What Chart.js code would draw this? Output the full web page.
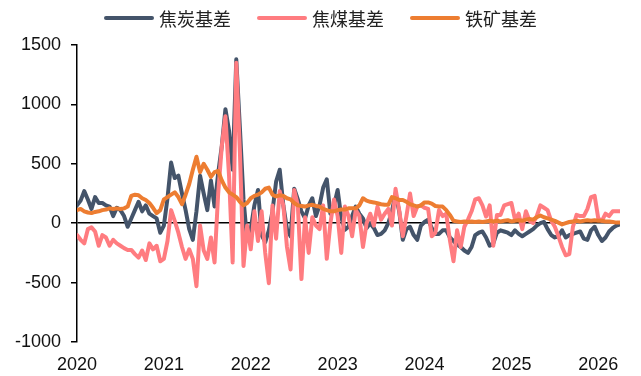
<!DOCTYPE html>
<html>
<head>
<meta charset="utf-8">
<script src="https://cdn.jsdelivr.net/npm/chart.js@4/dist/chart.umd.min.js"></script>
<style>
  body { margin: 0; background: #fff; }
  #wrap { position: relative; width: 641px; height: 376px; }
  #legend {
    position: absolute; left: 0; top: 6px; width: 641px; height: 24px;
    display: flex; justify-content: center; align-items: center;
    font-family: "Noto Sans CJK SC", sans-serif; font-size: 18px; color: #222;
  }
  .item { display: flex; align-items: center; margin: 0 13px; }
  .swatch { width: 50px; height: 4px; margin-right: 5px; border-radius: 2px; }
</style>
</head>
<body>
<div id="wrap">
  <canvas id="chart" width="641" height="376"></canvas>
  <div id="legend"></div>
</div>
<script>
// half-month steps starting Jan 2020
const startYear = 2020;
const stepsPerYear = 24;

const seriesNames = ['焦炭基差', '焦煤基差', '铁矿基差'];
const seriesColors = ['#44546A', '#FF7C80', '#ED7D31'];

const cokeBasis = [150,190,270,200,120,220,170,170,150,140,
  60,130,110,60,-30,40,110,180,100,150,
  80,60,40,-80,-20,210,510,380,400,250,
  110,-50,-140,100,400,250,110,360,140,420,
  650,960,780,450,1380,800,200,-140,-50,150,
  280,-100,-160,-60,100,350,450,150,-50,-110,
  290,200,100,40,150,210,60,150,300,370,
  80,150,280,50,-56,-30,60,140,80,40,
  -40,0,-40,-100,-90,-60,0,100,250,100,
  -140,-50,-30,-100,-140,-20,10,30,-40,-90,
  -90,-60,-60,-120,-150,-180,-200,-230,-250,-200,
  -100,-80,-70,-120,-190,-170,-80,-60,-70,-80,
  -100,-60,-90,-110,-90,-70,-50,-20,0,10,
  -50,-100,-120,-110,-60,-120,-100,-90,-80,-70,
  -130,-140,-60,-30,-100,-150,-120,-70,-40,-20,
  -10];

const coalBasis = [-100,-140,-170,-50,-35,-70,-190,-100,-120,-190,
  -140,-170,-190,-210,-225,-225,-260,-290,-230,-310,
  -170,-220,-190,-320,-300,-150,110,20,-80,-200,
  -300,-220,-300,-530,-20,-230,-300,-120,-330,250,
  650,900,400,-330,1350,600,-360,-20,-220,100,
  -150,100,-250,-505,150,-130,270,150,-200,-390,
  280,150,-470,50,-250,50,-20,-50,150,-300,
  0,200,60,-250,140,60,-110,110,60,-200,
  0,80,-20,140,30,80,120,-20,290,110,
  -110,60,250,60,140,150,130,120,-110,-80,
  110,60,80,-140,-320,-60,-200,-30,30,100,
  200,210,150,56,150,-190,70,70,150,160,
  170,30,80,-50,100,20,0,60,150,130,
  110,20,-30,-110,-200,-270,-260,-30,70,60,
  60,120,220,230,40,20,80,60,100,100,
  100];

const oreBasis = [110,120,100,90,85,95,100,110,115,125,
  120,125,120,125,140,230,240,235,210,195,
  170,130,85,110,200,220,240,260,220,160,
  240,330,450,560,430,500,450,390,430,440,
  360,300,260,240,220,180,150,170,210,230,
  240,260,290,300,240,225,235,230,210,200,
  170,150,145,140,150,155,145,140,120,110,
  100,100,110,115,115,125,125,125,150,210,
  190,180,175,168,160,155,155,220,210,196,
  196,180,160,150,140,150,175,175,165,145,
  140,140,110,70,20,15,10,15,10,15,
  10,15,10,15,20,15,20,15,20,25,
  15,20,25,20,30,35,30,50,65,50,
  40,30,20,5,-10,0,10,15,20,15,
  20,25,20,25,20,20,15,15,10,5,
  5];

const yTicks = [-1000, -500, 0, 500, 1000, 1500];
const xTicks = [2020, 2021, 2022, 2023, 2024, 2025, 2026];

const dates = cokeBasis.map((_, i) => startYear + i / stepsPerYear);
const toPoints = arr => arr.map((v, i) => ({ x: dates[i], y: v }));

// legend as html
const legendEl = document.getElementById('legend');
seriesNames.forEach((name, i) => {
  legendEl.insertAdjacentHTML('beforeend',
    `<div class="item"><span class="swatch" style="background:${seriesColors[i]}"></span><span>${name}</span></div>`);
});

const tickFont = { family: '"Liberation Sans", Arial, sans-serif', size: 18 };

const lineStyle = (i, order) => ({
  label: seriesNames[i],
  borderColor: seriesColors[i],
  backgroundColor: seriesColors[i],
  borderWidth: 4,
  pointRadius: 0,
  tension: 0,
  borderJoinStyle: 'round',
  borderCapStyle: 'round',
  order: order
});

new Chart(document.getElementById('chart'), {
  type: 'line',
  data: {
    datasets: [
      { ...lineStyle(0, 3), data: toPoints(cokeBasis) },
      { ...lineStyle(1, 2), data: toPoints(coalBasis) },
      { ...lineStyle(2, 1), data: toPoints(oreBasis) }
    ]
  },
  options: {
    responsive: false,
    animation: false,
    layout: { padding: { top: 45, right: 21, bottom: 0, left: 0 } },
    plugins: { legend: { display: false }, tooltip: { enabled: false } },
    scales: {
      x: {
        type: 'linear',
        min: startYear,
        max: dates[dates.length - 1],
        afterBuildTicks: scale => { scale.ticks = xTicks.map(v => ({ value: v })); },
        afterFit: scale => { scale.height = 34; },
        grid: { display: false, drawTicks: false },
        border: { display: false },
        ticks: {
          font: tickFont, color: '#111', padding: 12, maxRotation: 0, autoSkip: false,
          callback: v => String(v)
        }
      },
      y: {
        min: yTicks[0],
        max: yTicks[yTicks.length - 1],
        afterBuildTicks: scale => { scale.ticks = yTicks.map(v => ({ value: v })); },
        afterFit: scale => { scale.width = 77; },
        border: { display: true, color: '#000', width: 1.5 },
        grid: {
          color: c => (c.tick && c.tick.value === 0 ? '#000' : 'rgba(0,0,0,0)'),
          lineWidth: 1.5,
          tickColor: '#000',
          tickLength: 6
        },
        ticks: { font: tickFont, color: '#111', padding: 10, callback: v => String(v) }
      }
    }
  }
});
</script>
</body>
</html>
